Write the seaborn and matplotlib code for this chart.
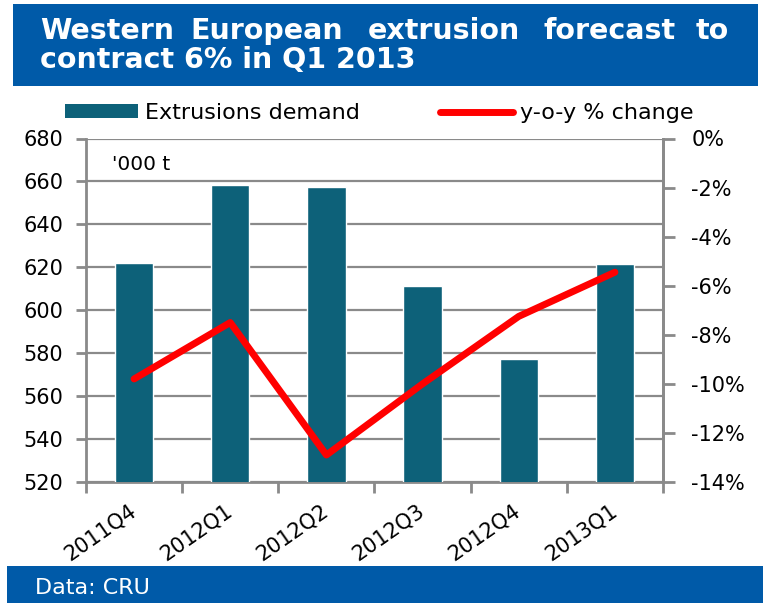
import matplotlib
matplotlib.use("Agg")
import matplotlib.pyplot as plt
import seaborn as sns
import numpy as np
import pandas as pd
from matplotlib.patches import Rectangle
from matplotlib.lines import Line2D

categories = ["2011Q4", "2012Q1", "2012Q2", "2012Q3", "2012Q4", "2013Q1"]
demand = [622, 658.5, 657.5, 611.5, 577.5, 621.5]
yoy_change = [-9.8, -7.5, -12.9, -10.0, -7.25, -5.45]
left_ticks = [520, 540, 560, 580, 600, 620, 640, 660, 680]
right_ticks = [-14, -12, -10, -8, -6, -4, -2, 0]
title_line1 = ["Western", "European", "extrusion", "forecast", "to"]
title_line2 = "contract 6% in Q1 2013"

sns.set_theme(style="white")
plt.rcParams['font.family'] = ['DejaVu Sans']
plt.rcParams['text.color'] = 'black'
plt.rcParams['xtick.labelcolor'] = 'black'
plt.rcParams['ytick.labelcolor'] = 'black'
plt.rcParams['legend.labelcolor'] = 'black'

BLUE = "#005aa8"
TEAL = "#0d6179"
RED = "#ff0000"
GREY = "#8a8a8a"
W, H = 769, 609

fig = plt.figure(figsize=(W / 100, H / 100), dpi=100)
fig.patch.set_facecolor("white")

def fx(x):
    return x / W

def fy(y):
    return 1 - y / H

# banners
fig.patches.append(Rectangle((fx(13), fy(86)), 745 / W, 82 / H, transform=fig.transFigure,
                             facecolor=BLUE, edgecolor="none", zorder=0))
fig.patches.append(Rectangle((fx(7), fy(603)), 756 / W, 37 / H, transform=fig.transFigure,
                             facecolor=BLUE, edgecolor="none", zorder=0))

# justified first title line
word_x = [40, 190, 368, 543, 729]
for i, (w, x) in enumerate(zip(title_line1, word_x)):
    fig.text(fx(x), fy(39), w, color="white", fontsize=20.5, fontweight="bold",
             va="baseline", ha="right" if i == len(title_line1) - 1 else "left")
fig.text(fx(40), fy(68), title_line2, color="white", fontsize=20.5, fontweight="bold",
         va="baseline", ha="left")
fig.text(fx(35), fy(588), "Data: CRU", color="white", fontsize=16, va="center", ha="left")

ax = fig.add_axes([fx(86), fy(482), (663 - 86) / W, (482 - 138.5) / H])
df = pd.DataFrame({"quarter": categories, "demand": demand, "yoy": yoy_change})
sns.barplot(data=df, x="quarter", y="demand", color=TEAL, saturation=1, width=0.4, ax=ax, zorder=3)
ax.set_ylim(520, 680)
ax.set_xlim(-0.5, 5.5)
ax.set_yticks(left_ticks)
ax.yaxis.grid(True, color=GREY, linewidth=1.6, zorder=0)
ax.set_axisbelow(True)
ax.set_xlabel("")
ax.set_ylabel("")
ax.spines["top"].set_visible(False)
for s in ["left", "bottom", "right"]:
    ax.spines[s].set_color(GREY)
    ax.spines[s].set_linewidth(2)
ax.set_xticks(np.arange(-0.5, 6.0, 1.0), minor=False)
ax.set_xticklabels([""] * 7)
ax.set_xticks(np.arange(6), minor=True)
ax.set_xticklabels(categories, minor=True, rotation=35, ha="right", va="center",
                   rotation_mode="anchor", fontsize=15, color="black")
ax.tick_params(axis="x", which="major", length=8, width=2, color=GREY, direction="out", bottom=True)
ax.tick_params(axis="x", which="minor", length=0, pad=19)
ax.tick_params(axis="y", length=7.5, width=2, color=GREY, direction="out", left=True,
               labelsize=15, pad=9, labelcolor="black")
unit = ax.text(0, 0, "'000 t", fontsize=14.5, ha="left", va="center", color="black")
unit.set_transform(fig.dpi_scale_trans)
unit.set_position((112 / 100, (H - 164) / 100))

ax2 = ax.twinx()
sns.lineplot(x=np.arange(6), y=yoy_change, color=RED, linewidth=5, ax=ax2,
             solid_capstyle="round", solid_joinstyle="round", zorder=5)
ax2.set_ylim(-14, 0)
ax2.set_yticks(right_ticks)
ax2.set_yticklabels([f"{t}%" for t in right_ticks])
ax2.tick_params(axis="y", length=8.5, width=2, color=GREY, direction="out", right=True,
                labelsize=15, pad=12, labelcolor="black")
ax2.grid(False)
for s in ["top", "left", "bottom"]:
    ax2.spines[s].set_visible(False)
ax2.spines["right"].set_color(GREY)
ax2.spines["right"].set_linewidth(2)
ax2.set_xlim(-0.5, 5.5)

handles = [Rectangle((0, 0), 1, 1, facecolor=TEAL, edgecolor="none"),
           Line2D([0], [0], color=RED, linewidth=5, solid_capstyle="round")]
fig.legend(handles, ["Extrusions demand", "y-o-y % change"], loc="center left",
           bbox_to_anchor=(fx(65), fy(113)), ncol=2, frameon=False, fontsize=16,
           handlelength=3.3, handleheight=0.55, handletextpad=0.3, columnspacing=3.6,
           borderaxespad=0, borderpad=0, labelcolor="black")

fig.savefig("out.png", dpi=100, facecolor="white")
